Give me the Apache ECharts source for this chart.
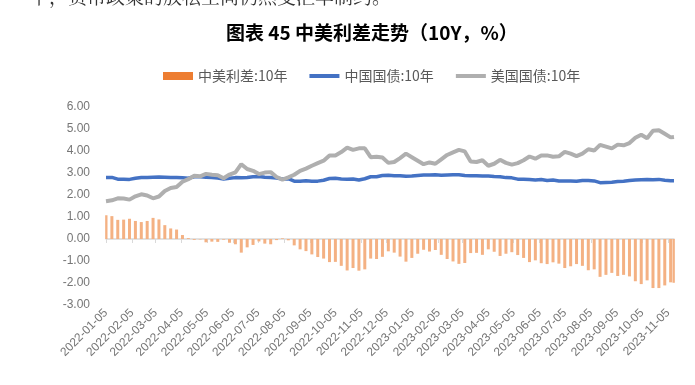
<!DOCTYPE html>
<html><head><meta charset="utf-8">
<script src="https://cdn.jsdelivr.net/npm/echarts@6/dist/echarts.min.js"></script>
<style>html,body{margin:0;padding:0;background:#fff}#c{width:695px;height:385px}</style>
</head><body><div id="c"></div><script>
// weekly observation dates
const dates = [
'2022-01-05','2022-01-12','2022-01-19','2022-01-26','2022-02-02','2022-02-09','2022-02-16','2022-02-23',
'2022-03-02','2022-03-09','2022-03-16','2022-03-23','2022-03-30','2022-04-06','2022-04-13','2022-04-20',
'2022-04-27','2022-05-04','2022-05-11','2022-05-18','2022-05-25','2022-06-01','2022-06-08','2022-06-15',
'2022-06-22','2022-06-29','2022-07-06','2022-07-13','2022-07-20','2022-07-27','2022-08-03','2022-08-10',
'2022-08-17','2022-08-24','2022-08-31','2022-09-07','2022-09-14','2022-09-21','2022-09-28','2022-10-05',
'2022-10-12','2022-10-19','2022-10-26','2022-11-02','2022-11-09','2022-11-16','2022-11-23','2022-11-30',
'2022-12-07','2022-12-14','2022-12-21','2022-12-28','2023-01-04','2023-01-11','2023-01-18','2023-01-25',
'2023-02-01','2023-02-08','2023-02-15','2023-02-22','2023-03-01','2023-03-08','2023-03-15','2023-03-22',
'2023-03-29','2023-04-05','2023-04-12','2023-04-19','2023-04-26','2023-05-03','2023-05-10','2023-05-17',
'2023-05-24','2023-05-31','2023-06-07','2023-06-14','2023-06-21','2023-06-28','2023-07-05','2023-07-12',
'2023-07-19','2023-07-26','2023-08-02','2023-08-09','2023-08-16','2023-08-23','2023-08-30','2023-09-06',
'2023-09-13','2023-09-20','2023-09-27','2023-10-04','2023-10-11','2023-10-18','2023-10-25','2023-11-01',
'2023-11-08','2023-11-12'];
// 中国国债:10年
const cn10y = [
2.80,2.80,2.72,2.72,2.71,2.76,2.80,2.80,2.81,2.82,2.81,2.80,2.79,2.78,2.76,2.83,
2.83,2.81,2.80,2.77,2.73,2.76,2.79,2.78,2.80,2.83,2.84,2.81,2.80,2.77,2.73,2.74,
2.63,2.63,2.65,2.63,2.63,2.67,2.75,2.76,2.73,2.72,2.73,2.68,2.74,2.83,2.83,2.89,
2.90,2.88,2.88,2.85,2.86,2.89,2.91,2.91,2.92,2.90,2.91,2.92,2.92,2.89,2.88,2.87,
2.86,2.86,2.84,2.83,2.79,2.78,2.72,2.72,2.70,2.68,2.70,2.66,2.68,2.64,2.64,2.64,
2.63,2.66,2.66,2.64,2.56,2.57,2.58,2.61,2.63,2.66,2.68,2.69,2.70,2.69,2.71,2.67,
2.65,2.65];
// 美国国债:10年
const us10y = [
1.72,1.76,1.85,1.84,1.79,1.94,2.03,1.98,1.85,1.93,2.18,2.32,2.36,2.60,2.72,2.87,
2.85,2.96,2.92,2.90,2.76,2.93,3.03,3.40,3.18,3.10,2.95,3.02,3.04,2.82,2.70,2.80,
2.92,3.10,3.20,3.33,3.45,3.56,3.80,3.80,3.95,4.15,4.05,4.12,4.12,3.72,3.74,3.70,
3.46,3.50,3.68,3.88,3.72,3.56,3.40,3.48,3.42,3.62,3.82,3.94,4.05,3.98,3.52,3.50,
3.58,3.33,3.42,3.60,3.46,3.38,3.45,3.58,3.75,3.65,3.80,3.80,3.74,3.76,3.96,3.88,
3.77,3.88,4.08,4.02,4.28,4.20,4.12,4.29,4.26,4.36,4.60,4.74,4.58,4.92,4.94,4.78,
4.62,4.64];
// 中美利差:10年
const spread = [
1.08,1.04,0.87,0.88,0.92,0.82,0.77,0.82,0.96,0.89,0.63,0.48,0.43,0.18,0.04,-0.04,
-0.02,-0.15,-0.12,-0.13,-0.03,-0.17,-0.24,-0.62,-0.38,-0.27,-0.11,-0.21,-0.24,-0.05,0.03,-0.06,
-0.29,-0.47,-0.55,-0.70,-0.82,-0.89,-1.05,-1.04,-1.22,-1.43,-1.32,-1.44,-1.38,-0.89,-0.91,-0.81,
-0.56,-0.62,-0.80,-1.03,-0.86,-0.67,-0.49,-0.57,-0.50,-0.72,-0.91,-1.02,-1.13,-1.09,-0.64,-0.63,
-0.72,-0.47,-0.58,-0.77,-0.67,-0.60,-0.73,-0.86,-1.05,-0.97,-1.10,-1.14,-1.06,-1.12,-1.32,-1.24,
-1.14,-1.22,-1.42,-1.38,-1.72,-1.63,-1.54,-1.68,-1.63,-1.70,-1.92,-2.05,-1.88,-2.23,-2.23,-2.11,
-1.97,-1.99];
const seriesNames = ['中美利差:10年','中国国债:10年','美国国债:10年'];
const axisStart = '2022-01-05', axisEnd = '2023-11-12';

// daily category axis (date axis)
function fmt(t){const d=new Date(t);const m=d.getUTCMonth()+1, dd=d.getUTCDate();
  return d.getUTCFullYear()+'-'+(m<10?'0':'')+m+'-'+(dd<10?'0':'')+dd;}
const cats=[];
for(let t=Date.parse(axisStart+'T00:00:00Z'); t<=Date.parse(axisEnd+'T00:00:00Z'); t+=86400000) cats.push(fmt(t));
const pos={}; cats.forEach((c,i)=>pos[c]=i);
function place(vals){const a=new Array(cats.length).fill(null); dates.forEach((d,i)=>{a[pos[d]]=vals[i];}); return a;}
const isLabelDay=(i,v)=>v.slice(8)==='05';

const chart=echarts.init(document.getElementById('c'),null,{renderer:'canvas'});
const numFont='"Liberation Sans", Arial, "Noto Sans CJK SC", sans-serif';
const lineIcon='path://M0,0 L30,0 L30,4 L0,4 Z';
chart.setOption({
  animation:false,
  backgroundColor:'#ffffff',
  graphic:[
    {type:'text',left:30,top:-13,style:{text:'下，货币政策的放松空间仍然受汇率制约。',fill:'#333',font:'19px "Noto Serif CJK SC","Noto Sans CJK SC",serif'}},
    {type:'text',left:226,top:23,style:{text:'图表 45 中美利差走势（10Y，%）',fill:'#000',font:'bold 19px "Noto Sans CJK SC", sans-serif'}}
  ],
  legend:{
    left:158, top:64, itemWidth:30, itemHeight:8, itemGap:22, symbolKeepAspect:true,
    textStyle:{color:'#595959',fontSize:14,fontFamily:'"Noto Sans CJK SC", sans-serif'},
    data:[
      {name:seriesNames[0],icon:'rect',itemStyle:{color:'#ED7D31',opacity:1}},
      {name:seriesNames[1],icon:lineIcon,itemStyle:{color:'#4472C4'}},
      {name:seriesNames[2],icon:lineIcon,itemStyle:{color:'#AFAFAF'}}
    ]
  },
  grid:{left:106,right:21,top:107,bottom:80,containLabel:false},
  xAxis:[
    {type:'category',data:cats,boundaryGap:false,position:'bottom',
     axisLine:{show:false,onZero:false},axisTick:{show:false},
     axisLabel:{interval:isLabelDay,rotate:45,color:'#767676',fontSize:12,fontFamily:numFont,margin:6},
     splitLine:{show:false}},
    {type:'category',data:cats,boundaryGap:false,position:'bottom',
     axisLine:{show:true,onZero:true,lineStyle:{color:'#d9d9d9',width:1.5}},
     axisTick:{show:true,interval:isLabelDay,length:4,lineStyle:{color:'#d9d9d9'}},
     axisLabel:{show:false},splitLine:{show:false}}
  ],
  yAxis:{type:'value',min:-3,max:6,interval:1,
    axisLine:{show:false},axisTick:{show:false},splitLine:{show:false},
    axisLabel:{color:'#767676',fontSize:12,fontFamily:numFont,margin:16,formatter:v=>v.toFixed(2)}},
  series:[
    {name:seriesNames[0],type:'bar',xAxisIndex:0,data:place(spread),barWidth:3,
     itemStyle:{color:'#F4B183'}},
    {name:seriesNames[1],type:'line',xAxisIndex:0,data:place(cn10y),connectNulls:true,symbol:'none',
     lineStyle:{color:'#4472C4',width:3.5},itemStyle:{color:'#4472C4'}},
    {name:seriesNames[2],type:'line',xAxisIndex:0,data:place(us10y),connectNulls:true,symbol:'none',
     lineStyle:{color:'#AFAFAF',width:4},itemStyle:{color:'#AFAFAF'}}
  ]
});
</script></body></html>
